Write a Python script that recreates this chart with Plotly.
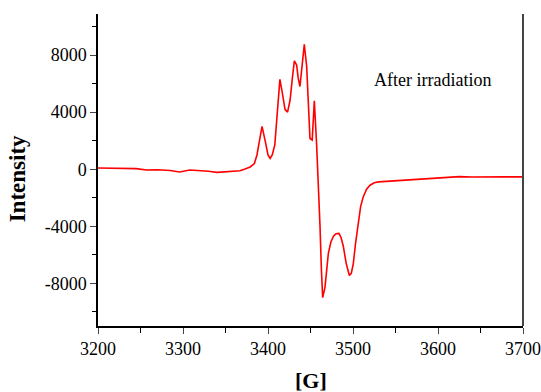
import plotly.graph_objects as go

field = [3200, 3215, 3230, 3245, 3257, 3270, 3285, 3296, 3308, 3320, 3330, 3340, 3352, 3360,
         3367, 3373, 3379, 3384, 3387, 3390, 3393, 3397, 3400, 3402.5, 3405, 3408, 3411, 3414,
         3417, 3420, 3423, 3426, 3428.5, 3431, 3433.7, 3435.5, 3437.6, 3440, 3442.7, 3445.5,
         3447.5, 3449.4, 3452, 3454.5, 3457.3, 3459.2, 3461.2, 3462.8, 3464.3, 3467, 3471, 3474,
         3477, 3480, 3483.5, 3486, 3488.6, 3492, 3495.7, 3498, 3500.4, 3503, 3506.3, 3509, 3512,
         3516, 3520, 3525, 3530, 3543, 3555, 3565, 3579, 3590, 3602, 3615, 3625, 3640, 3660,
         3680, 3700]
intensity = [90, 60, 20, 40, -60, -40, -90, -190, -60, -90, -140, -220, -180, -160,
             -110, 20, 160, 400, 1000, 2000, 3000, 1900, 1000, 750, 1000, 1700, 4000, 6300,
             5300, 4200, 4000, 4850, 6300, 7600, 7300, 6400, 5800, 7000, 8750, 7200,
             4500, 2150, 2050, 4800, 1600, -800, -4000, -7000, -9000, -8300, -5900, -5100,
             -4700, -4520, -4500, -4800, -5400, -6600, -7450, -7300, -6600, -5200, -3600, -2600, -1950,
             -1400, -1120, -950, -890, -840, -770, -720, -650, -620, -590, -560, -520, -550, -520,
             -540, -540]

x_ticks = [3200, 3300, 3400, 3500, 3600, 3700]
x_ticktext = ["3200", "3300", "3400", "3500", "3600", "3700"]
y_ticks = [-8000, -4000, 0, 4000, 8000]
y_ticktext = ["-8000", "-4000", "0", "4000", "8000"]
label_text = "After irradiation"
x_title = "[G]"
y_title = "Intensity"

FONT = "Liberation Serif"

fig = go.Figure()
fig.add_trace(go.Scatter(x=field, y=intensity, mode="lines",
                         line=dict(color="#ff0000", width=1.6), showlegend=False))

fig.update_layout(
    width=541, height=392,
    margin=dict(l=98, r=18, t=14, b=66),
    paper_bgcolor="white", plot_bgcolor="white",
    font=dict(family=FONT, size=18, color="black"),
    xaxis=dict(range=[3200, 3700], tickvals=x_ticks, ticktext=x_ticktext, ticks="outside",
               ticklen=6, tickwidth=1, automargin=False,
               showline=True, linecolor="black", linewidth=1.5, showgrid=False, zeroline=False,
               minor=dict(dtick=50, tick0=3200, ticks="outside", ticklen=5, tickcolor="black"),
               tickfont=dict(size=18, family=FONT)),
    yaxis=dict(range=[-10990, 10880], tickvals=y_ticks, ticktext=y_ticktext, ticks="outside",
               ticklen=6, tickwidth=1, automargin=False,
               showline=True, linecolor="black", linewidth=1.5, showgrid=False, zeroline=False,
               minor=dict(dtick=2000, tick0=0, ticks="outside", ticklen=4, tickcolor="black"),
               tickfont=dict(size=18, family=FONT)),
    shapes=[dict(type="line", xref="paper", yref="paper", x0=1, x1=1, y0=0, y1=1,
                 line=dict(color="#444444", width=2))],
    annotations=[
        dict(x=3594, y=6250, xref="x", yref="y", text=label_text, showarrow=False,
             font=dict(size=18, family=FONT)),
        dict(x=0.5, y=0, xref="paper", yref="paper", yshift=-54, yanchor="middle",
             text="<b>" + x_title + "</b>", showarrow=False, font=dict(size=22, family=FONT)),
        dict(x=0, y=0.47, xref="paper", yref="paper", xshift=-81, xanchor="center",
             yanchor="middle", text="<b>" + y_title + "</b>",
             textangle=-90, showarrow=False, font=dict(size=23, family=FONT)),
    ],
)

fig.write_html("out.html")
